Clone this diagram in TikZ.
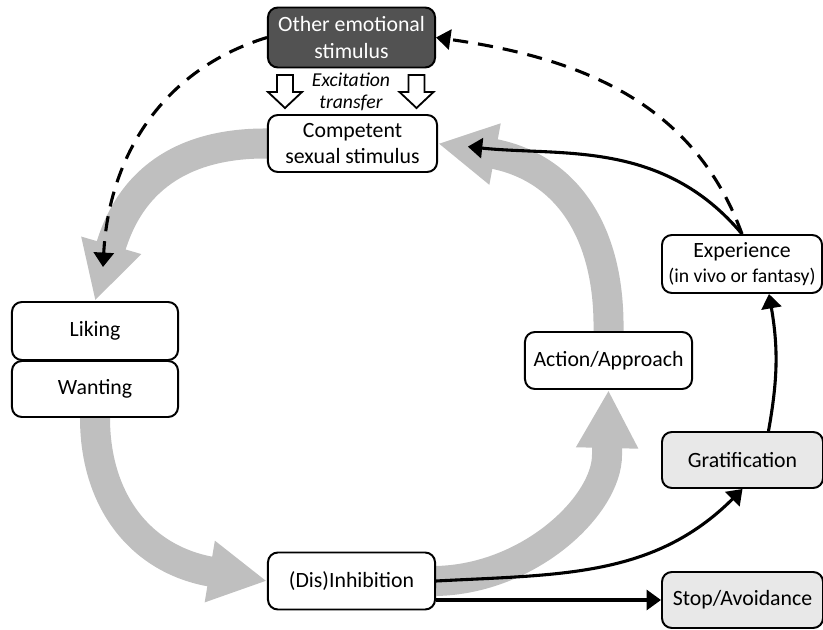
\documentclass[tikz,border=0pt]{standalone}
\usepackage{fontspec}
\setmainfont{Carlito}
\usetikzlibrary{arrows.meta,calc}
\pgfdeclarelayer{background}
\pgfsetlayers{background,main}

\begin{document}
\begin{tikzpicture}[x=0.025cm, y=-0.025cm,
        box/.style={draw, line width=1.4pt, rounded corners=7pt, fill=white, align=center, inner sep=1pt,
            minimum width=4.15cm, minimum height=1.45cm, font=\fontsize{15.5}{19}\selectfont},
        flow/.style={draw=black!25, line width=0.75cm, -{Triangle[width=1.45cm,length=1.45cm]}},
        link/.style={line width=2.2pt, -{Triangle[width=0.5cm,length=0.36cm]}},
        back/.style={link, dash pattern=on 0.38cm off 0.25cm},
        hollow/.style={draw, line width=1.3pt, fill=white, line join=miter}]

    \useasboundingbox (0,0) rectangle (823,630);

    \node[box, fill=black!68, text=white, minimum width=4.175cm, minimum height=1.5cm] (other) at (351.5,37.5) {Other emotional\\stimulus};
    \node[box, minimum width=4.225cm, minimum height=1.425cm] (comp) at (352.5,143.5) {Competent\\sexual stimulus};
    \node[box] (liking) at (95,331) {Liking};
    \node[box, minimum height=1.4cm] (want) at (95,389) {Wanting};
    \node[box, minimum width=4.175cm, minimum height=1.425cm] (dis) at (351.5,581) {(Dis)Inhibition};
    \node[box, minimum width=4.175cm, minimum height=1.425cm] (act) at (608.5,360.5) {Action/Approach};
    \node[box, minimum width=4cm, font=\fontsize{15.5}{18}\selectfont] (exp) at (742,264) {Experience\\{\fontsize{14}{17}\selectfont (in vivo or fantasy)}};
    \node[box, fill=black!9, minimum width=4.025cm, minimum height=1.4cm] (grat) at (742.5,460) {Gratification};
    \node[box, fill=black!9, minimum width=4.025cm, minimum height=1.4cm] (stop) at (742.5,600) {Stop/Avoidance};

    \node[align=center, inner sep=0pt, font=\itshape\fontsize{14}{16}\selectfont] (exc) at (351,92) {Excitation\\transfer};

    % excitation transfer arrows
    \foreach \x/\name in {285/hl, 416.5/hr}{
        \coordinate (\name) at (\x,75);
        \draw[hollow] (\name) ++(-8,0) -- ++(0,17) -- ++(-9,0) -- ++(17,16) -- ++(17,-16) -- ++(-9,0) -- ++(0,-17) -- cycle;
    }

    % the main loop
    \begin{pgfonlayer}{background}
        \draw[flow] (comp.west) .. controls (190,143) and (132,174) .. (liking.north);
        \draw[flow] (want.south) .. controls (95,500) and (140,560) .. (dis.west);
        \draw[flow] (dis.east) .. controls (530,579) and (607,505) .. (607,455) -- (act.south);
        \draw[flow] (act.north) .. controls (610,230) and (565,167) .. (comp.east);
    \end{pgfonlayer}

    \coordinate (dtip) at (103,267);
    \draw[back] (other.west) to[out=197, in=87] (dtip);
    \draw[back] (exp.north) to[out=110, in=-8] (other.east);
    \draw[link, shorten >=0.75cm] (exp.north) to[out=130, in=-6] (comp.east);
    \draw[link] ($(grat.north)+(26,0)$) to[bend right=10] ($(exp.south)+(27,0)$);
    \draw[link] (dis.east) to[out=3, in=225] (grat.south);
    \draw[link] (stop.west -| dis.east) -- (stop.west);

\end{tikzpicture}
\end{document}
